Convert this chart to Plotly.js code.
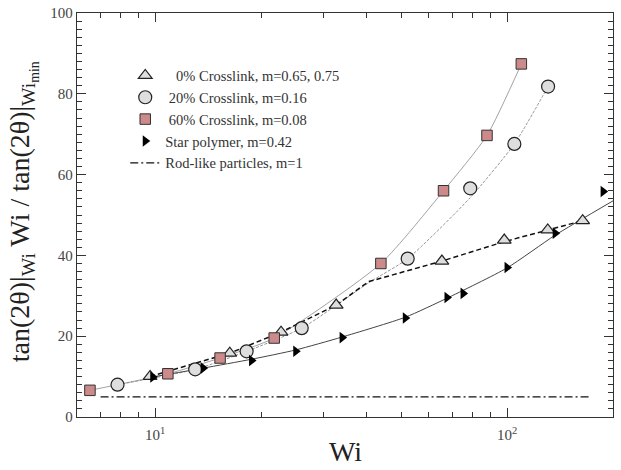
<!DOCTYPE html>
<html>
<head>
<meta charset="utf-8">
<script src="https://cdn.plot.ly/plotly-3.0.1.min.js"></script>
<style>html,body{margin:0;padding:0;background:#fff;}#chart{width:621px;height:470px;}</style>
</head>
<body>
<div id="chart"></div>
<script>
// ---- data ----
const legendNames = ['\u00a0\u00a0\u00a00% Crosslink, m=0.65, 0.75', '\u00a020% Crosslink, m=0.16', '\u00a060% Crosslink, m=0.08', 'Star polymer, m=0.42', 'Rod-like particles, m=1'];

const wi0 = [9.68, 16.3, 22.8, 32.7, 65.3, 98.2, 130.5, 164];
const y0 = [10.05, 15.8, 21.0, 27.7, 38.6, 43.8, 46.3, 48.6];

const wi20 = [7.82, 13.0, 18.2, 26.1, 52.2, 78.6, 104.9, 130.8];
const y20 = [8.0, 11.8, 16.25, 22.0, 39.2, 56.6, 67.6, 81.8];

const wi60 = [6.53, 10.87, 15.3, 21.8, 43.8, 66.0, 87.7, 109.8];
const y60 = [6.6, 10.7, 14.6, 19.55, 38.0, 56.0, 69.7, 87.4];

const wiStar = [9.85, 13.7, 18.8, 25.1, 34.0, 51.4, 67.5, 75.0, 100, 137, 187.5];
const yStar = [9.9, 12.1, 14.0, 16.3, 19.65, 24.5, 29.6, 30.6, 37.0, 45.5, 55.8];

const wiRod = [7, 172];
const yRod = [5, 5];

// fitted curves
const fitWi0 = [9.68, 16.3, 22.8, 32.7, 40.4, 65.3, 98.2, 130.5, 164];
const fitY0 = [10.05, 15.8, 21.0, 27.7, 33.5, 38.6, 43.4, 46.3, 48.6];
const fitWi20 = [7.82, 13.0, 18.2, 26.1, 40.4, 52.2, 78.6, 104.9, 130.8];
const fitY20 = [8.0, 11.8, 16.25, 22.0, 33.2, 39.2, 54.3, 67.6, 81.8];
const fitWi60 = [6.53, 10.87, 15.3, 21.8, 43.8, 66.0, 87.7, 109.8];
const fitY60 = [6.6, 10.7, 14.6, 19.55, 38.0, 56.0, 69.7, 87.4];
const fitWiStar = [9.85, 13.7, 18.8, 25.1, 34.0, 51.4, 67.5, 100, 137, 200];
const fitYStar = [9.9, 12.1, 14.3, 16.6, 19.8, 24.7, 29.4, 36.9, 45.0, 53.5];

const xTickVals = [10, 100];
const xTickText = ['10<sup>1</sup>', '10<sup>2</sup>'];
const xMinorVals = [7, 8, 9, 20, 30, 40, 50, 60, 70, 80, 90, 200];

const xTitle = 'Wi';
const yTitle = 'tan(2θ)|<sub>Wi</sub> Wi / tan(2θ)|<sub>Wi<sub>min</sub></sub>';

// ---- traces ----
const fitLine = (x, y, color, dash, width, shape) => ({
  x: x, y: y, mode: 'lines', showlegend: false, hoverinfo: 'skip',
  line: {color: color, dash: dash, width: width, shape: shape, smoothing: 0.6}
});

const traces = [
  fitLine(fitWi60, fitY60, '#8a8a8a', 'solid', 0.8, 'spline'),
  fitLine(fitWi20, fitY20, '#8a8a8a', '3px,1.5px', 0.9, 'spline'),
  fitLine(fitWi0, fitY0, '#111', '5px,3px', 1.5, 'linear'),
  fitLine(fitWiStar, fitYStar, '#444', 'solid', 1.0, 'spline'),
  {x: wi0, y: y0, mode: 'markers', name: legendNames[0],
   marker: {symbol: 'triangle-up', size: 12, color: '#dedede', line: {color: '#222', width: 1.2}}},
  {x: wi20, y: y20, mode: 'markers', name: legendNames[1],
   marker: {symbol: 'circle', size: 13, color: '#dedede', line: {color: '#222', width: 1.2}}},
  {x: wi60, y: y60, mode: 'markers', name: legendNames[2],
   marker: {symbol: 'square', size: 10.5, color: '#cc8a8a', line: {color: '#333', width: 1}}},
  {x: wiStar, y: yStar, mode: 'markers', name: legendNames[3],
   marker: {symbol: 'triangle-right', size: 10, color: '#000', line: {width: 0}}},
  {x: wiRod, y: yRod, mode: 'lines', name: legendNames[4],
   line: {color: '#111', width: 1.3, dash: '8px,3px,2px,3px'}}
];

const axisCommon = {
  showline: true, linecolor: '#333', linewidth: 1.2, mirror: 'ticks',
  ticks: 'inside', ticklen: 9, tickwidth: 1, tickcolor: '#333',
  showgrid: false, zeroline: false,
  tickfont: {family: 'Liberation Serif', size: 15, color: '#444'}
};

const titleFont = {family: 'Liberation Serif', size: 28, color: '#222'};

const layout = {
  width: 621, height: 470,
  margin: {l: 77, r: 8, t: 13, b: 53},
  paper_bgcolor: '#fff', plot_bgcolor: '#fff',
  font: {family: 'Liberation Serif', color: '#333'},
  showlegend: true,
  legend: {x: 0.09, y: 0.885, xanchor: 'left', yanchor: 'top', bgcolor: 'rgba(0,0,0,0)',
           font: {family: 'Liberation Serif', size: 14.5, color: '#333'}, tracegroupgap: 0},
  xaxis: Object.assign({}, axisCommon, {
    type: 'log', range: [Math.log10(6), Math.log10(200)],
    tickmode: 'array', tickvals: xTickVals, ticktext: xTickText,
    ticklabelstandoff: 4,
    minor: {tickmode: 'array', tickvals: xMinorVals, ticks: 'inside', ticklen: 5, tickcolor: '#333'}
  }),
  yaxis: Object.assign({}, axisCommon, {
    range: [0, 100], dtick: 20, tick0: 0,
    minor: {dtick: 2, ticks: 'inside', ticklen: 5, tickcolor: '#333'}
  }),
  annotations: [
    {text: xTitle, xref: 'paper', yref: 'paper', x: 0.5, y: -0.1287,
     xanchor: 'center', yanchor: 'bottom', showarrow: false, font: titleFont},
    {text: yTitle, xref: 'paper', yref: 'paper', x: -0.1007, y: 0.507, textangle: -90,
     xanchor: 'center', yanchor: 'middle', showarrow: false, font: titleFont}
  ]
};

Plotly.newPlot('chart', traces, layout, {displayModeBar: false, staticPlot: true});
</script>
</body>
</html>
